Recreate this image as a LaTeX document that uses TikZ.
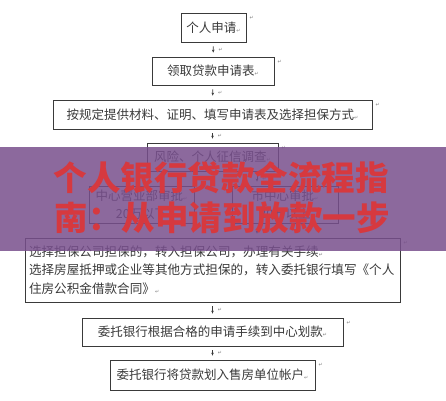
\documentclass[tikz,border=0pt]{standalone}
\usepackage{fontspec}
\newfontfamily\cjk{Noto Sans CJK SC}
\newfontfamily\djv{DejaVu Sans}
\usetikzlibrary{arrows.meta}
\definecolor{ink}{HTML}{3A3A3A}
\definecolor{bannerc}{RGB}{120,79,141}
\definecolor{titlered}{HTML}{D6393F}
\newcommand\pmk{{\djv\fontsize{5}{5}\selectfont\color{gray}↵}}
\begin{document}
\begin{tikzpicture}[x=1pt,y=-1pt,
  box/.style={draw=ink, line width=0.8pt, text=ink, inner sep=0pt, minimum height=28pt,
    font=\cjk\fontsize{12.5}{18}\selectfont, align=center},
  flow/.style={-{Stealth[length=3pt,width=2.6pt]}, draw=ink, line width=0.6pt,
    shorten >=4pt, shorten <=4pt},
  pm/.style={font=\djv\fontsize{5}{5}\selectfont, text=gray, inner sep=0pt, anchor=west},
  ttl/.style={font=\cjk\bfseries\fontsize{33.5}{40}\selectfont, text=titlered, inner sep=0pt}]
\useasboundingbox (0,0) rectangle (446,400);
\fill[white] (0,0) rectangle (446,400);

% boxes
\node[box, minimum width=65pt, minimum height=29pt] (b1) at (213.5,27.5) {个人申请\pmk};
\node[box, minimum width=122pt] (b2) at (213,71) {领取贷款申请表\pmk};
\node[box, minimum width=319pt, minimum height=29pt] (b3) at (212.5,114.5) {按规定提供材料、证明、填写申请表及选择担保方式\pmk};
\node[box, minimum width=131pt] (b4) at (212.5,157) {风险、个人征信调查\pmk};
\node[box, minimum width=105pt, minimum height=37pt] (b5a) at (141.5,204.5) {中心营业部审批\pmk\\20万以下};
\node[box, minimum width=106pt, minimum height=37pt] (b5b) at (285,204.5) {市中心审批\pmk\\20万以上};
\node[box, minimum width=375pt, minimum height=64pt, text width=367pt, align=left,
  font=\cjk\fontsize{12.6}{18.5}\selectfont] (b6) at (212.5,270)
  {选择担保公司担保的，转入担保公司，办理有关手续\pmk\\
   选择房屋抵押或企业等其他方式担保的，转入委托银行填写《个人\\
   住房公积金借款合同》\pmk};
\node[box, minimum width=261pt] (b7) at (212.5,332) {委托银行根据合格的申请手续到中心划款\pmk};
\node[box, minimum width=205pt, minimum height=30pt] (b8) at (212.5,375) {委托银行将贷款划入售房单位帐户\pmk};

% cell-end marks
\foreach \n in {b1,b2,b3,b4,b5b,b6,b7,b8}
  \node[pm] at ([xshift=3pt,yshift=-5pt]\n.north east) {↵};
\node[pm] at ([xshift=10pt,yshift=-2pt]b5a.north east) {↵};

% connectors
\coordinate (cx) at (257,0);
\draw[flow] (b1) -- node[pm, xshift=5pt]{↵} (b2);
\draw[flow] (b2) -- node[pm, xshift=5pt]{↵} (b3);
\draw[flow] (b3) -- node[pm, xshift=5pt]{↵} (b4);
\draw[flow] (b4.south -| cx) -- node[pm, xshift=5pt]{↵} (b5a.north -| cx);
\draw[flow] (b5a.south -| cx) -- node[pm, xshift=5pt]{↵} (b6.north -| cx);
\draw[flow] (b6) -- node[pm, xshift=5pt]{↵} (b7);
\draw[flow] (b7) -- node[pm, xshift=5pt]{↵} (b8);

% banner overlay
\node[fill=bannerc, fill opacity=0.85, draw=none, minimum width=446pt, minimum height=104pt,
  inner sep=0pt] (banner) at (223,199) {};
\node[ttl] (t1) at (221,178) {个人银行贷款全流程指};
\node[ttl] (t2) at (222,218) {南：从申请到放款一步};
\end{tikzpicture}
\end{document}
